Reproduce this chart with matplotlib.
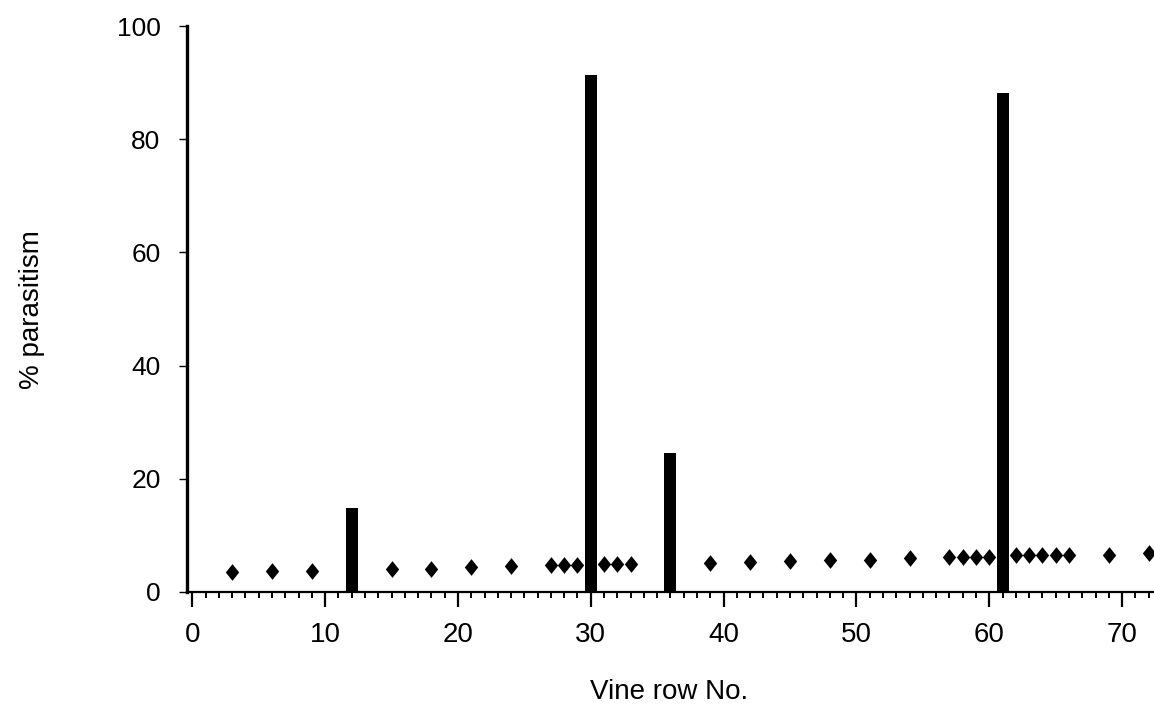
import matplotlib
matplotlib.use("Agg")
import matplotlib.pyplot as plt
from matplotlib.ticker import MultipleLocator

plt.rcParams['font.family'] = ['Liberation Sans', 'DejaVu Sans']

# Bars (% parasitism at sampled rows)
bar_rows = [12, 30, 36, 61]
bar_values = [14.8, 91.3, 24.6, 88.2]

# Diamond markers
diamond_rows = [3, 6, 9, 15, 18, 21, 24, 27, 28, 29, 31, 32, 33, 39, 42, 45, 48,
                51, 54, 57, 58, 59, 60, 62, 63, 64, 65, 66, 69, 72]
diamond_values = [3.5, 3.7, 3.7, 4.1, 4.1, 4.4, 4.6, 4.8, 4.8, 4.8, 4.9, 4.9, 4.9,
                  5.1, 5.3, 5.5, 5.7, 5.7, 6.0, 6.2, 6.2, 6.2, 6.2, 6.5, 6.5, 6.5,
                  6.5, 6.5, 6.5, 6.9]

xticks = [0, 10, 20, 30, 40, 50, 60, 70]
yticks = [0, 20, 40, 60, 80, 100]

fig = plt.figure(figsize=(11.54, 7.08), dpi=100)
ax = fig.add_axes([0.162, 0.164, 0.838, 0.799])

ax.bar(bar_rows, bar_values, width=0.9, color='black', zorder=3)
diamond = [(0, 1), (0.8, 0), (0, -1), (-0.8, 0), (0, 1)]
ax.scatter(diamond_rows, diamond_values, marker=diamond, s=145, color='black',
           zorder=4, linewidths=0)

ax.set_xlim(-0.4, 72.4)
ax.set_ylim(0, 100)
ax.set_xticks(xticks)
ax.set_yticks(yticks)
ax.xaxis.set_minor_locator(MultipleLocator(1))

for s in ['top', 'right']:
    ax.spines[s].set_visible(False)
ax.spines['left'].set_linewidth(2.4)
ax.spines['bottom'].set_linewidth(1.6)

ax.tick_params(axis='x', which='major', direction='out', length=11, width=1.6,
               labelsize=20, pad=11)
ax.tick_params(axis='x', which='minor', direction='out', length=4.5, width=1.4)
ax.tick_params(axis='y', which='major', direction='out', length=6, width=1.0,
               labelsize=19, pad=13)

ax.set_xlabel('Vine row No.', fontsize=20)
ax.set_ylabel('% parasitism', fontsize=20)
ax.xaxis.set_label_coords((669 - 187) / (1154 * 0.838), (708 - 692 - 116) / (708 * 0.799))
ax.yaxis.set_label_coords((32 - 187) / (1154 * 0.838), (708 - 310 - 116) / (708 * 0.799))
ax.xaxis.label.set_verticalalignment('center')
ax.yaxis.label.set_verticalalignment('center')

fig.savefig('out.png', dpi=100)
